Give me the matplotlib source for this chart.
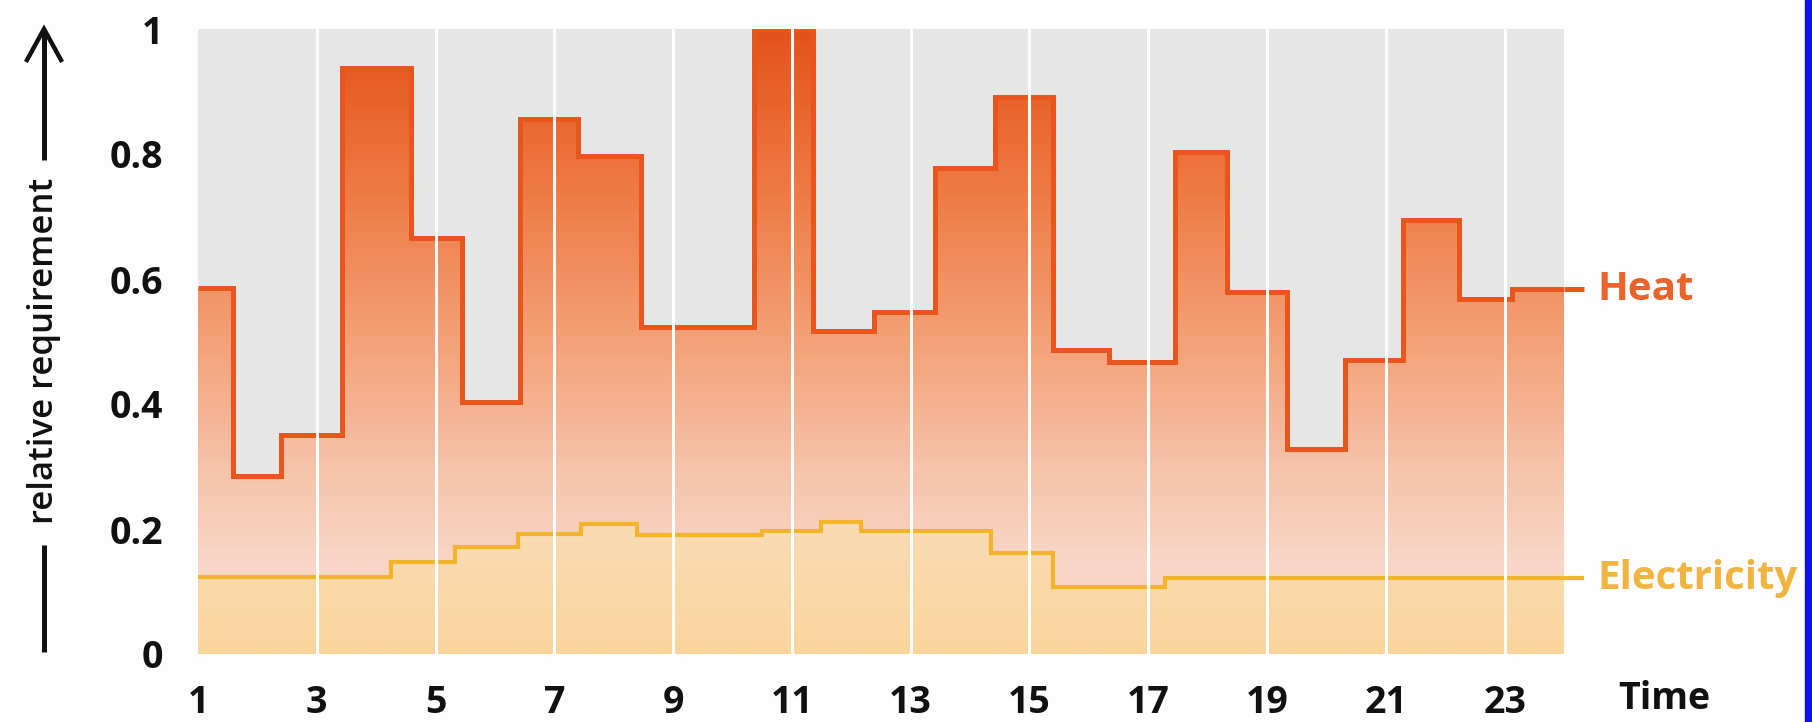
import numpy as np
import matplotlib
matplotlib.use("Agg")
import matplotlib.pyplot as plt
from matplotlib.colors import LinearSegmentedColormap
from matplotlib.patches import Rectangle
from matplotlib.lines import Line2D

# ---------------- data ----------------
heat_edges = [1, 1.59, 2.39, 3.42, 4.59, 5.45, 6.42, 7.40, 8.46, 10.36, 11.35,
              12.39, 13.41, 14.42, 15.39, 16.34, 17.45, 18.32, 19.33, 20.31,
              21.29, 22.24, 23.13, 24]
heat_vals = [0.585, 0.285, 0.351, 0.937, 0.666, 0.404, 0.856, 0.797, 0.523,
             1.0, 0.517, 0.548, 0.778, 0.891, 0.486, 0.467, 0.803, 0.579,
             0.328, 0.470, 0.694, 0.568, 0.584]

elec_edges = [1, 4.25, 5.32, 6.38, 7.45, 8.39, 10.49, 11.49, 12.17, 14.35,
              15.39, 17.28, 24]
elec_vals = [0.124, 0.147, 0.171, 0.192, 0.208, 0.190, 0.197, 0.212, 0.197,
             0.161, 0.107, 0.121]

x_ticks = [1, 3, 5, 7, 9, 11, 13, 15, 17, 19, 21, 23]
y_ticks = [0, 0.2, 0.4, 0.6, 0.8, 1.0]
y_tick_labels = ["0", "0.2", "0.4", "0.6", "0.8", "1"]
white_lines = [3, 5, 7, 9, 11, 13, 15, 17, 19, 21, 23]

# ---------------- style ----------------
plt.rcParams['font.family'] = ['Open Sans', 'DejaVu Sans']
HEAT_LINE = "#E8561E"
HEAT_TEXT = "#E8642A"
ELEC_LINE = "#F2B42A"
ELEC_TEXT = "#F0B440"
BG = "#E6E6E6"
INK = "#111111"

W, H = 1812, 722
fig = plt.figure(figsize=(W / 100, H / 100), dpi=100)
fig.patch.set_facecolor("#FDFDFD")

def fx(px):
    return px / W

def fy(py):
    return 1 - py / H

ax_l, ax_r, ax_t, ax_b = 198, 1564, 29, 654
ax = fig.add_axes([fx(ax_l), fy(ax_b), (ax_r - ax_l) / W, (ax_b - ax_t) / H])
ax.set_facecolor(BG)
for s in ax.spines.values():
    s.set_visible(False)

# heat gradient fill
heat_cmap = LinearSegmentedColormap.from_list("heat", [
    (0.0, "#F9DDCF"), (0.15, "#F8D6C6"), (0.3, "#F6C2A9"), (0.5, "#F3A178"),
    (0.7, "#EF814C"), (0.88, "#EA642E"), (1.0, "#E4521C")])
grad = np.linspace(0, 1, 400).reshape(-1, 1)
heat_patch = ax.stairs(heat_vals, heat_edges, baseline=0, fill=True,
                       color="none", zorder=1)
im = ax.imshow(grad, extent=[1, 24, 0, 1], origin="lower", aspect="auto",
               cmap=heat_cmap, zorder=1.5, interpolation="bilinear")
im.set_clip_path(heat_patch)

# electricity gradient fill
elec_cmap = LinearSegmentedColormap.from_list("elec", [
    (0.0, "#F9D59E"), (1.0, "#FADCB4")])
elec_patch = ax.stairs(elec_vals, elec_edges, baseline=0, fill=True,
                       color="none", zorder=2)
im2 = ax.imshow(np.linspace(0, 1, 100).reshape(-1, 1),
                extent=[1, 24, 0, max(elec_vals)], origin="lower",
                aspect="auto", cmap=elec_cmap, zorder=2.5,
                interpolation="bilinear")
im2.set_clip_path(elec_patch)
ax.set_ylim(0, 1)
ax.set_xlim(1, 24)

# step lines
ax.stairs(heat_vals, heat_edges, baseline=None, color=HEAT_LINE, lw=3.6,
          zorder=4)
ax.stairs(elec_vals, elec_edges, baseline=None, color=ELEC_LINE, lw=3.0,
          zorder=4)

# leaders and labels at right
lead_end = 24.34
lab_x = 24.57
ax.plot([24, lead_end], [heat_vals[-1], heat_vals[-1]], color=HEAT_LINE,
        lw=3.6, clip_on=False, zorder=4, solid_capstyle="butt")
ax.plot([24, lead_end], [elec_vals[-1], elec_vals[-1]], color=ELEC_LINE,
        lw=3.0, clip_on=False, zorder=4, solid_capstyle="butt")
ax.text(lab_x, heat_vals[-1], "Heat", color=HEAT_TEXT, fontsize=29,
        fontweight="bold", va="center", ha="left", clip_on=False)
ax.text(lab_x, elec_vals[-1], "Electricity", color=ELEC_TEXT, fontsize=29,
        fontweight="bold", va="center", ha="left", clip_on=False)

# white vertical lines
for xv in white_lines:
    ax.axvline(xv, color="white", lw=2.2, zorder=6)

# ticks
ax.set_xticks(x_ticks)
ax.set_xticklabels([str(t) for t in x_ticks])
ax.set_yticks(y_ticks)
ax.set_yticklabels(y_tick_labels)
ax.tick_params(axis="both", length=0, labelsize=27, labelcolor=INK)
ax.tick_params(axis="x", pad=21.5)
ax.tick_params(axis="y", pad=25)
for lab in ax.get_xticklabels() + ax.get_yticklabels():
    lab.set_fontweight("bold")

fig.text(fx(1664), fy(699), "Time", fontsize=27, fontweight="bold",
         color=INK, ha="center", va="center")

# y-axis label with line and arrow
lx = 44
fig.text(fx(lx), fy(351), "relative requirement", rotation=90, fontsize=25,
         fontweight="semibold", color=INK, ha="center", va="center")
fig.add_artist(Line2D([fx(lx), fx(lx)], [fy(545), fy(652)], color=INK,
                      lw=3.6, solid_capstyle="butt"))
fig.add_artist(Line2D([fx(lx), fx(lx)], [fy(160), fy(31)], color=INK,
                      lw=3.6, solid_capstyle="butt"))
fig.add_artist(Line2D([fx(lx - 17), fx(lx), fx(lx + 17)],
                      [fy(60), fy(29), fy(60)], color=INK, lw=3.2,
                      solid_joinstyle="miter"))

# scan border at right
fig.add_artist(Rectangle((fx(1805), 0), 1 - fx(1805), 1,
                         transform=fig.transFigure, color="#0A10EE",
                         zorder=10))

fig.savefig("out.png", dpi=100, facecolor=fig.get_facecolor())
